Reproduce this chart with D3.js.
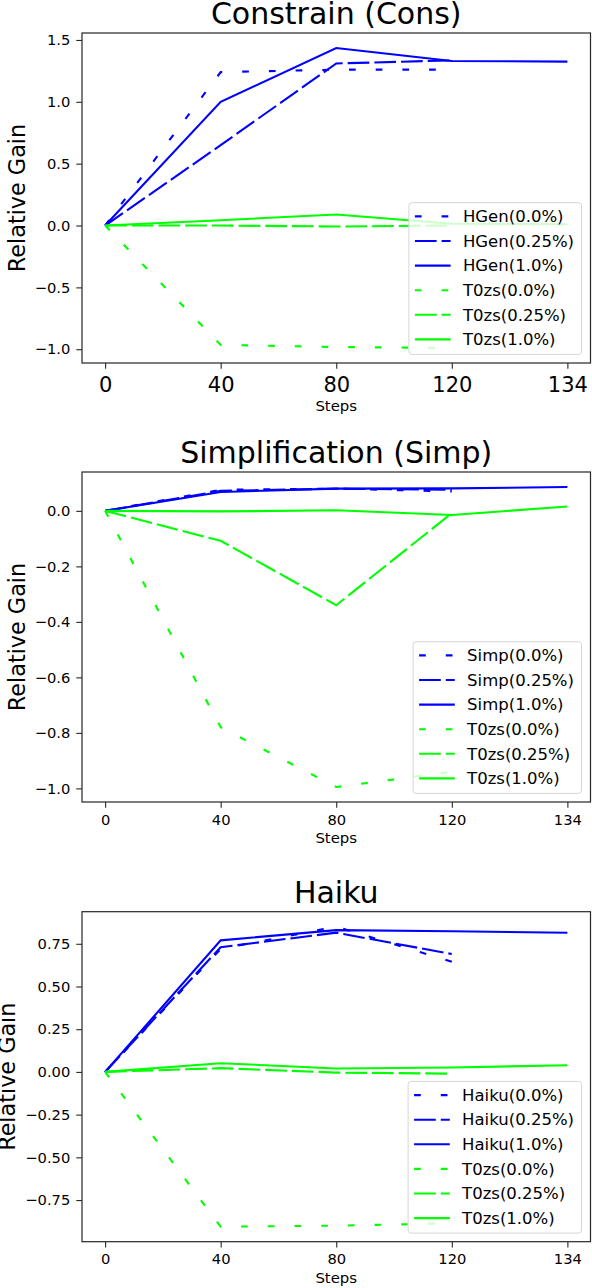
<!DOCTYPE html>
<html>
<head>
<meta charset="utf-8">
<script src="https://cdn.jsdelivr.net/npm/d3@7"></script>
<style>
  body { margin: 0; background: #fff; }
  text { font-family: "DejaVu Sans", sans-serif; }
</style>
</head>
<body>
<svg id="mainsvg" width="592" height="1288"></svg>
<script>
// x categories (equally spaced in the chart)
const steps = ['0', '40', '80', '120', '134'];
const rates = ['0.0%', '0.25%', '1.0%'];

// Constrain (Cons)
const consHGen00 = [0, 1.24, 1.26, 1.26];
const consHGen025 = [0, 0.65, 1.31, 1.335];
const consHGen10 = [0, 1.0, 1.435, 1.33, 1.325];
const consT0zs00 = [0, -0.965, -0.982, -0.99];
const consT0zs025 = [0, 0.0, -0.008, 0.0];
const consT0zs10 = [0, 0.043, 0.089, 0.014, 0.01];
const consYTicks = [-1.0, -0.5, 0.0, 0.5, 1.0, 1.5];

// Simplification (Simp)
const simpSimp00 = [0, 0.076, 0.08, 0.07];
const simpSimp025 = [0, 0.072, 0.08, 0.076];
const simpSimp10 = [0, 0.068, 0.08, 0.081, 0.086];
const simpT0zs00 = [0, -0.78, -0.995, -0.94];
const simpT0zs025 = [0, -0.108, -0.34, -0.008];
const simpT0zs10 = [0, -0.002, 0.002, -0.015, 0.016];
const simpYTicks = [-1.0, -0.8, -0.6, -0.4, -0.2, 0.0];

// Haiku
const haikuHaiku00 = [0, 0.72, 0.85, 0.645];
const haikuHaiku025 = [0, 0.73, 0.815, 0.69];
const haikuHaiku10 = [0, 0.77, 0.83, 0.823, 0.815];
const haikuT0zs00 = [0, -0.906, -0.9, -0.886];
const haikuT0zs025 = [0, 0.022, -0.004, -0.01];
const haikuT0zs10 = [0, 0.051, 0.02, 0.026, 0.039];
const haikuYTicks = [-0.75, -0.5, -0.25, 0.0, 0.25, 0.5, 0.75];

const svg = d3.select('#mainsvg');
const left = 82, width = 508.5, height = 330;
const dashes = { '0.0%': '6.7,20', '0.25%': '21.7,5', '1.0%': null };

const panels = [
  { title: 'Constrain (Cons)', name: 'HGen', top: 33,
    blue: [consHGen00, consHGen025, consHGen10], green: [consT0zs00, consT0zs025, consT0zs10],
    yTicks: consYTicks, fmt: d3.format('.1f'), xFont: 21, xBase: 29, stepsOff: 48.3, ylabX: 24.6 },
  { title: 'Simplification (Simp)', name: 'Simp', top: 472,
    blue: [simpSimp00, simpSimp025, simpSimp10], green: [simpT0zs00, simpT0zs025, simpT0zs10],
    yTicks: simpYTicks, fmt: d3.format('.1f'), xFont: 14.7, xBase: 22.8, stepsOff: 40.6, ylabX: 24.6 },
  { title: 'Haiku', name: 'Haiku', top: 911.7,
    blue: [haikuHaiku00, haikuHaiku025, haikuHaiku10], green: [haikuT0zs00, haikuT0zs025, haikuT0zs10],
    yTicks: haikuYTicks, fmt: d3.format('.2f'), xFont: 14.7, xBase: 22.2, stepsOff: 41, ylabX: 14.6 }
];

const render = function(p) {
  const g = svg.append('g').attr('transform', `translate(${left},${p.top})`);

  const series = [];
  p.blue.forEach((v, i) => series.push({ label: `${p.name}(${rates[i]})`, values: v, color: '#0000ff', dash: dashes[rates[i]] }));
  p.green.forEach((v, i) => series.push({ label: `T0zs(${rates[i]})`, values: v, color: '#00ff00', dash: dashes[rates[i]] }));

  const all = series.flatMap(s => s.values);
  const lo = d3.min(all), hi = d3.max(all), pad = (hi - lo) * 0.05;

  const x = d3.scalePoint().domain(steps).range([0, width]).padding(0.2);
  const y = d3.scaleLinear().domain([lo - pad, hi + pad]).range([height, 0]);

  // axes
  const yAxis = g.append('g').call(d3.axisLeft(y).tickValues(p.yTicks).tickFormat(p.fmt).tickSize(5.7).tickPadding(6));
  yAxis.select('.domain').remove();
  yAxis.selectAll('line').attr('stroke', '#262626').attr('stroke-width', 1.1);
  yAxis.selectAll('text').attr('font-size', 14.7).attr('fill', '#000')
    .attr('font-family', '"DejaVu Sans", sans-serif');

  const xAxis = g.append('g').attr('transform', `translate(0,${height})`)
    .call(d3.axisBottom(x).tickSize(5.7));
  xAxis.select('.domain').remove();
  xAxis.selectAll('line').attr('stroke', '#262626').attr('stroke-width', 1.1);
  xAxis.selectAll('text').attr('font-size', p.xFont).attr('fill', '#000')
    .attr('font-family', '"DejaVu Sans", sans-serif')
    .attr('y', p.xBase).attr('dy', null);

  // lines
  const line = d3.line().x((d, i) => x(steps[i])).y(d => y(d));
  g.selectAll('path.series').data(series).join('path')
    .attr('class', 'series')
    .attr('fill', 'none')
    .attr('stroke', d => d.color)
    .attr('stroke-width', 2.1)
    .attr('stroke-dasharray', d => d.dash)
    .attr('d', d => line(d.values));

  // frame
  g.append('rect').attr('width', width).attr('height', height)
    .attr('fill', 'none').attr('stroke', '#262626').attr('stroke-width', 1.2);

  // title and labels
  g.append('text').attr('x', width / 2).attr('y', -9).attr('text-anchor', 'middle')
    .attr('font-size', 30).text(p.title);
  g.append('text').attr('x', width / 2).attr('y', height + p.stepsOff).attr('text-anchor', 'middle')
    .attr('font-size', 14.9).text('Steps');
  g.append('text').attr('transform', `translate(${p.ylabX - left},${height / 2}) rotate(-90)`)
    .attr('text-anchor', 'middle').attr('font-size', 22.3).text('Relative Gain');

  // legend (lower right)
  const lg = g.append('g');
  const box = lg.append('rect');
  const rows = lg.selectAll('g').data(series).join('g')
    .attr('transform', (d, i) => `translate(0,${13.7 + i * 24.6})`);
  rows.append('line').attr('x1', 6).attr('x2', 41.7)
    .attr('stroke', d => d.color).attr('stroke-width', 2.1)
    .attr('stroke-dasharray', d => d.dash);
  rows.append('text').attr('x', 54).attr('dy', '0.35em').attr('font-size', 16.5).text(d => d.label);
  let tw = 0;
  rows.selectAll('text').each(function() { tw = Math.max(tw, this.getComputedTextLength()); });
  const lw = 54 + tw + 7.5, lh = 151.7;
  box.attr('width', lw).attr('height', lh).attr('rx', 3)
    .attr('fill', 'rgba(255,255,255,0.8)').attr('stroke', '#d6d6d6').attr('stroke-width', 1);
  lg.attr('transform', `translate(${width - 9 - lw},${height - 8.6 - lh})`);
};

panels.forEach(render);
</script>
</body>
</html>
